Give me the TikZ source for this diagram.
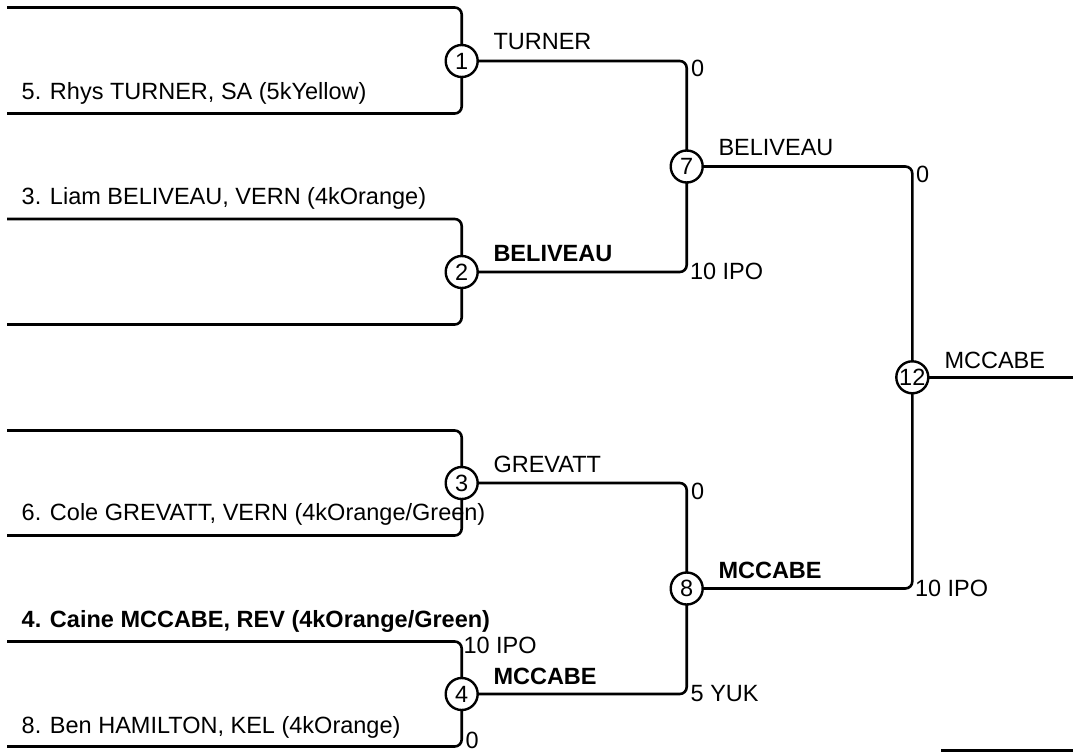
\documentclass[tikz,border=0pt]{standalone}
\usepackage{fontspec}
\setmainfont{Liberation Sans}
\begin{document}
\begin{tikzpicture}[x=1pt,y=-1pt,line width=2.6pt,
  every node/.style={inner sep=0pt,outer sep=0pt,font=\fontsize{23.5}{28}\selectfont},
  match/.style={circle,draw,line width=2.4pt,minimum size=32pt,font=\fontsize{23.5}{28}\selectfont},
  lab/.style={anchor=base west},
  blab/.style={anchor=base west,font=\fontsize{23.5}{28}\selectfont\bfseries},
  conn/.style={rounded corners=7pt}]
\useasboundingbox (0,0) rectangle (1073,752);
% match circles
\node[match] (m1) at (461.7,61) {1};
\node[match] (m2) at (461.7,272) {2};
\node[match] (m3) at (461.7,483) {3};
\node[match] (m4) at (461.7,694) {4};
\node[match] (m7) at (686.7,166.5) {7};
\node[match] (m8) at (686.7,588.5) {8};
\node[match] (m12) at (912.3,377.3) {12};
% free ends
\coordinate (b1t) at (7,7.5);
\coordinate (b1b) at (7,113.5);
\coordinate (b2t) at (7,219);
\coordinate (b2b) at (7,324.5);
\coordinate (b3t) at (7,430.5);
\coordinate (b3b) at (7,535.5);
\coordinate (b4t) at (7,641.5);
\coordinate (b4b) at (7,746.5);
\coordinate (out) at (1073,377.3);
\coordinate (bl1) at (941,750.7);
\coordinate (bl2) at (1073,750.7);
% connectors
\draw[conn] (b1t) -| (m1.north);
\draw[conn] (m1.south) |- (b1b);
\draw[conn] (b2t) -| (m2.north);
\draw[conn] (m2.south) |- (b2b);
\draw[conn] (b3t) -| (m3.north);
\draw[conn] (m3.south) |- (b3b);
\draw[conn] (b4t) -| (m4.north);
\draw[conn] (m4.south) |- (b4b);
\draw[conn] (m1.east) -| (m7.north);
\draw[conn] (m2.east) -| (m7.south);
\draw[conn] (m3.east) -| (m8.north);
\draw[conn] (m4.east) -| (m8.south);
\draw[conn] (m7.east) -| (m12.north);
\draw[conn] (m8.east) -| (m12.south);
\draw (m12.east) -- (out);
\draw (bl1) -- (bl2);
% player names
\node[lab] (p5) at (21.7,99.3) {5. Rhys TURNER, SA (5kYellow)};
\node[lab] (p3) at (21.7,204) {3. Liam BELIVEAU, VERN (4kOrange)};
\node[lab] (p6) at (21.7,520.7) {6. Cole GREVATT, VERN (4kOrange/Green)};
\node[blab] (p4) at (21.7,627.3) {4. Caine MCCABE, REV (4kOrange/Green)};
\node[lab] (p8) at (21.7,733.3) {8. Ben HAMILTON, KEL (4kOrange)};
% winners
\node[lab] (w1) at (493.5,49) {TURNER};
\node[blab] (w2) at (493.5,261.7) {BELIVEAU};
\node[lab] (w3) at (493.5,472.3) {GREVATT};
\node[blab] (w4) at (493.5,684) {MCCABE};
\node[lab] (w7) at (718.5,155.7) {BELIVEAU};
\node[blab] (w8) at (718.5,578.3) {MCCABE};
\node[lab] (w12) at (944.5,368.3) {MCCABE};
% scores
\node[lab] (s4a) at (463.5,653) {10 IPO};
\node[lab] (s4b) at (465.5,748) {0};
\node[lab] (s1) at (691,76) {0};
\node[lab] (s2) at (690,279) {10 IPO};
\node[lab] (s3) at (691,499) {0};
\node[lab] (s4) at (690.7,701.7) {5 YUK};
\node[lab] (s7) at (916,182.3) {0};
\node[lab] (s8) at (915,596.7) {10 IPO};
\end{tikzpicture}
\end{document}
